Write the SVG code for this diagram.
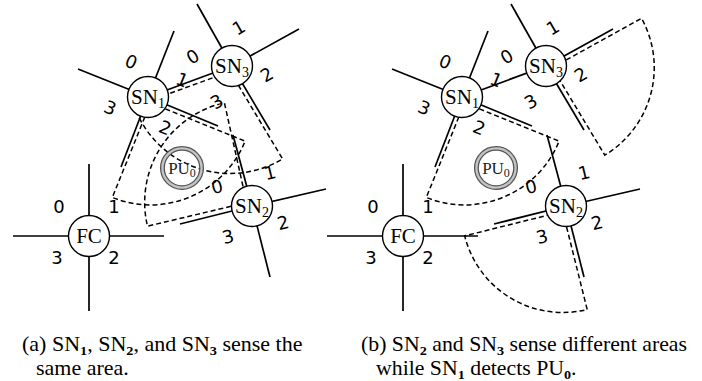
<svg xmlns="http://www.w3.org/2000/svg" width="702" height="381" viewBox="0 0 702 381">
<style>
.arm{stroke:#000;stroke-width:1.7;fill:none}
.sec{stroke:#000;stroke-width:1.5;fill:none;stroke-dasharray:5 3}
.node{fill:#fff;stroke:#000;stroke-width:1.4}
.nl{font-family:"Liberation Serif",serif;font-size:21px;text-anchor:middle;fill:#000}
.pu{font-family:"Liberation Serif",serif;font-size:17px;text-anchor:middle;fill:#222}
.pl{font-family:"DejaVu Sans",sans-serif;font-size:18px;text-anchor:middle;fill:#000}
.cap{font-family:"Liberation Serif",serif;font-size:20px;fill:#000}
.sb{font-size:13px;font-weight:bold}
</style>
<rect width="702" height="381" fill="#fff"/>

<!-- ===== Panel (a) ===== -->
<g id="panel-a">
  <g id="a-connectors">
    <!-- sensing sectors -->
    <path class="sec" d="M150.5,102.9 L245.1,141.1 A102,102 0 0 1 112.3,197.5 Z"/>
    <path class="sec" d="M230.1,71.5 L282.6,158.9 A102,102 0 0 1 134.2,106.4 Z"/>
    <path class="sec" d="M246.6,202.6 L147.5,226.2 A102,102 0 0 1 224.4,102.8 Z"/>
    <!-- arms -->
    <line class="arm" x1="89" y1="236" x2="89" y2="164"/>
    <line class="arm" x1="89" y1="236" x2="164" y2="236"/>
    <line class="arm" x1="89" y1="236" x2="89" y2="311"/>
    <line class="arm" x1="89" y1="236" x2="13" y2="236"/>
    <line class="arm" x1="148" y1="97" x2="174" y2="31"/>
    <line class="arm" x1="148" y1="97" x2="78" y2="69"/>
    <line class="arm" x1="148" y1="97" x2="121" y2="167"/>
    <line class="arm" x1="148" y1="97" x2="218" y2="126"/>
    <line class="arm" x1="232" y1="66" x2="197" y2="4"/>
    <line class="arm" x1="232" y1="66" x2="299" y2="29"/>
    <line class="arm" x1="232" y1="66" x2="270" y2="130"/>
    <line class="arm" x1="252" y1="206" x2="233" y2="135"/>
    <line class="arm" x1="252" y1="206" x2="326" y2="189"/>
    <line class="arm" x1="252" y1="206" x2="270" y2="277"/>
    <line class="arm" x1="252" y1="206" x2="180" y2="224"/>
    <!-- link SN1-SN3 -->
    <line class="arm" x1="148" y1="97" x2="232" y2="66"/>
  </g>
  <g id="a-PU0">
    <circle cx="182" cy="168" r="19.6" fill="none" stroke="#c4c4c4" stroke-width="3"/>
    <circle cx="182" cy="168" r="21.4" fill="none" stroke="#555" stroke-width="1.3"/>
    <circle cx="182" cy="168" r="17.8" fill="none" stroke="#555" stroke-width="1.3"/>
    <text class="pu" x="182" y="174">PU<tspan font-size="12" dy="3">0</tspan></text>
  </g>
  <g id="a-FC">
    <circle class="node" cx="89" cy="236" r="20.5"/>
    <text class="nl" x="89" y="243">FC</text>
    <text class="pl" x="59" y="213">0</text>
    <text class="pl" x="114" y="213">1</text>
    <text class="pl" x="114" y="264">2</text>
    <text class="pl" x="57" y="264">3</text>
  </g>
  <g id="a-SN1">
    <circle class="node" cx="148" cy="97" r="20.5"/>
    <text class="nl" x="148" y="104">SN<tspan font-size="14" dy="4">1</tspan></text>
    <text class="pl" transform="translate(131,62) rotate(22)" y="6">0</text>
    <text class="pl" transform="translate(182,80) rotate(22)" y="6">1</text>
    <text class="pl" transform="translate(165,128) rotate(22)" y="6">2</text>
    <text class="pl" transform="translate(110,108) rotate(22)" y="6">3</text>
  </g>
  <g id="a-SN3">
    <circle class="node" cx="232" cy="66" r="20.5"/>
    <text class="nl" x="232" y="73">SN<tspan font-size="14" dy="4">3</tspan></text>
    <text class="pl" transform="translate(193,57) rotate(-30)" y="6">0</text>
    <text class="pl" transform="translate(239,28) rotate(-30)" y="6">1</text>
    <text class="pl" transform="translate(267,75) rotate(-30)" y="6">2</text>
    <text class="pl" transform="translate(217,102) rotate(-30)" y="6">3</text>
  </g>
  <g id="a-SN2">
    <circle class="node" cx="252" cy="206" r="20.5"/>
    <text class="nl" x="252" y="213">SN<tspan font-size="14" dy="4">2</tspan></text>
    <text class="pl" transform="translate(217,187) rotate(-14)" y="6">0</text>
    <text class="pl" transform="translate(270,173) rotate(-14)" y="6">1</text>
    <text class="pl" transform="translate(283,223) rotate(-14)" y="6">2</text>
    <text class="pl" transform="translate(228,237) rotate(-14)" y="6">3</text>
  </g>
  <text class="cap" transform="translate(22,351) scale(1.1,1)">(a) SN<tspan class="sb" dy="4">1</tspan><tspan dy="-4">, SN</tspan><tspan class="sb" dy="4">2</tspan><tspan dy="-4">, and SN</tspan><tspan class="sb" dy="4">3</tspan><tspan dy="-4"> sense the</tspan></text>
  <text class="cap" transform="translate(36,375) scale(1.1,1)">same area.</text>
</g>

<!-- ===== Panel (b) ===== -->
<g id="panel-b" transform="translate(314,0)">
  <g id="b-connectors">
    <path class="sec" d="M150.5,102.9 L245.1,141.1 A102,102 0 0 1 112.3,197.5 Z"/>
    <path class="sec" d="M238.2,67.7 L327.5,18.3 A102,102 0 0 1 290.8,155.1 Z"/>
    <path class="sec" d="M248.7,211.5 L273.2,309.5 A101,101 0 0 1 150.7,235.9 Z"/>
    <line class="arm" x1="89" y1="236" x2="89" y2="164"/>
    <line class="arm" x1="89" y1="236" x2="164" y2="236"/>
    <line class="arm" x1="89" y1="236" x2="89" y2="311"/>
    <line class="arm" x1="89" y1="236" x2="13" y2="236"/>
    <line class="arm" x1="148" y1="97" x2="174" y2="31"/>
    <line class="arm" x1="148" y1="97" x2="78" y2="69"/>
    <line class="arm" x1="148" y1="97" x2="121" y2="167"/>
    <line class="arm" x1="148" y1="97" x2="218" y2="126"/>
    <line class="arm" x1="232" y1="66" x2="197" y2="4"/>
    <line class="arm" x1="232" y1="66" x2="299" y2="29"/>
    <line class="arm" x1="232" y1="66" x2="270" y2="130"/>
    <line class="arm" x1="252" y1="206" x2="233" y2="135"/>
    <line class="arm" x1="252" y1="206" x2="326" y2="189"/>
    <line class="arm" x1="252" y1="206" x2="270" y2="277"/>
    <line class="arm" x1="252" y1="206" x2="180" y2="224"/>
    <line class="arm" x1="148" y1="97" x2="232" y2="66"/>
  </g>
  <g id="b-PU0">
    <circle cx="182" cy="168" r="19.6" fill="none" stroke="#c4c4c4" stroke-width="3"/>
    <circle cx="182" cy="168" r="21.4" fill="none" stroke="#555" stroke-width="1.3"/>
    <circle cx="182" cy="168" r="17.8" fill="none" stroke="#555" stroke-width="1.3"/>
    <text class="pu" x="182" y="174">PU<tspan font-size="12" dy="3">0</tspan></text>
  </g>
  <g id="b-FC">
    <circle class="node" cx="89" cy="236" r="20.5"/>
    <text class="nl" x="89" y="243">FC</text>
    <text class="pl" x="59" y="213">0</text>
    <text class="pl" x="114" y="213">1</text>
    <text class="pl" x="114" y="264">2</text>
    <text class="pl" x="57" y="264">3</text>
  </g>
  <g id="b-SN1">
    <circle class="node" cx="148" cy="97" r="20.5"/>
    <text class="nl" x="148" y="104">SN<tspan font-size="14" dy="4">1</tspan></text>
    <text class="pl" transform="translate(131,62) rotate(22)" y="6">0</text>
    <text class="pl" transform="translate(182,80) rotate(22)" y="6">1</text>
    <text class="pl" transform="translate(165,128) rotate(22)" y="6">2</text>
    <text class="pl" transform="translate(110,108) rotate(22)" y="6">3</text>
  </g>
  <g id="b-SN3">
    <circle class="node" cx="232" cy="66" r="20.5"/>
    <text class="nl" x="232" y="73">SN<tspan font-size="14" dy="4">3</tspan></text>
    <text class="pl" transform="translate(193,57) rotate(-30)" y="6">0</text>
    <text class="pl" transform="translate(239,28) rotate(-30)" y="6">1</text>
    <text class="pl" transform="translate(267,75) rotate(-30)" y="6">2</text>
    <text class="pl" transform="translate(217,102) rotate(-30)" y="6">3</text>
  </g>
  <g id="b-SN2">
    <circle class="node" cx="252" cy="206" r="20.5"/>
    <text class="nl" x="252" y="213">SN<tspan font-size="14" dy="4">2</tspan></text>
    <text class="pl" transform="translate(217,187) rotate(-14)" y="6">0</text>
    <text class="pl" transform="translate(270,173) rotate(-14)" y="6">1</text>
    <text class="pl" transform="translate(283,223) rotate(-14)" y="6">2</text>
    <text class="pl" transform="translate(228,237) rotate(-14)" y="6">3</text>
  </g>
  <text class="cap" transform="translate(47,351) scale(1.09,1)">(b) SN<tspan class="sb" dy="4">2</tspan><tspan dy="-4"> and SN</tspan><tspan class="sb" dy="4">3</tspan><tspan dy="-4"> sense different areas</tspan></text>
  <text class="cap" transform="translate(62,375) scale(1.09,1)">while SN<tspan class="sb" dy="4">1</tspan><tspan dy="-4"> detects PU</tspan><tspan class="sb" dy="4">0</tspan><tspan dy="-4">.</tspan></text>
</g>
</svg>
